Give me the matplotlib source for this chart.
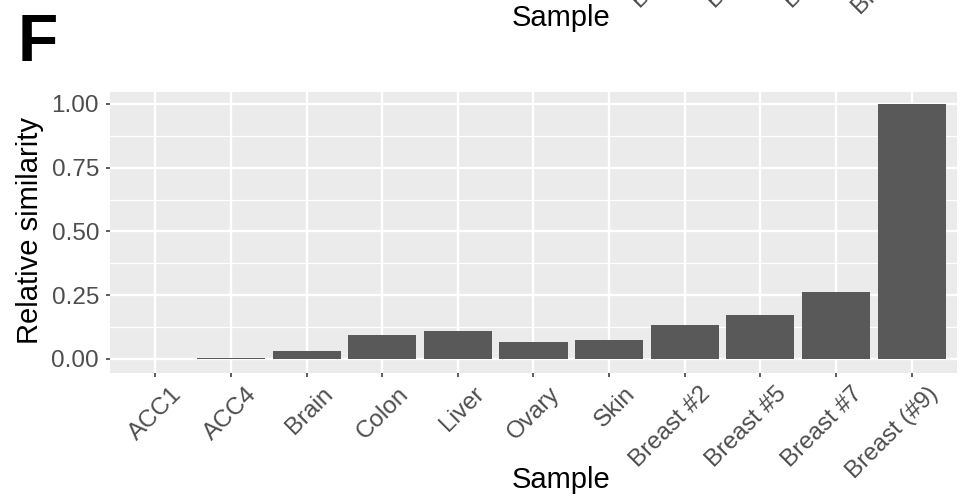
import matplotlib
matplotlib.use("Agg")
import matplotlib.pyplot as plt
from matplotlib.transforms import ScaledTranslation
import numpy as np

plt.rcParams['font.family'] = ['Liberation Sans', 'DejaVu Sans']

# data
samples = ['ACC1', 'ACC4', 'Brain', 'Colon', 'Liver', 'Ovary', 'Skin',
           'Breast #2', 'Breast #5', 'Breast #7', 'Breast (#9)']
similarity = [-0.002, 0.005, 0.031, 0.094, 0.110, 0.067, 0.075,
              0.133, 0.173, 0.263, 1.000]
y_ticks = [0.00, 0.25, 0.50, 0.75, 1.00]
y_tick_labels = ['0.00', '0.25', '0.50', '0.75', '1.00']
# tail of the panel above, cut by the top edge
prev_panel_labels = ['Breast #2', 'Breast #5', 'Breast #7', 'Breast (#9)']

W, H = 970, 499
fig = plt.figure(figsize=(W / 100, H / 100), dpi=100)

# panel in pixel coords
left, right, top, bottom = 110, 957, 92, 373
ax = fig.add_axes([left / W, 1 - bottom / H, (right - left) / W, (bottom - top) / H])

x = np.arange(1, len(samples) + 1)
ax.bar(x, similarity, width=0.9, color='#595959', zorder=3)

ax.set_facecolor('#EBEBEB')
for s in ax.spines.values():
    s.set_visible(False)

ax.set_xlim(0.4, len(samples) + 0.6)
ax.set_ylim(-0.055, 1.047)
ax.set_yticks(y_ticks, y_tick_labels)
ax.set_yticks([0.125, 0.375, 0.625, 0.875], minor=True)
ax.set_xticks(x, samples)

ax.grid(True, which='major', color='white', linewidth=1.7, zorder=0)
ax.grid(True, which='minor', axis='y', color='white', linewidth=0.9, zorder=0)
ax.set_axisbelow(True)

ax.tick_params(axis='both', which='major', color='#333333', length=2.9, width=1.1,
               labelcolor='#4D4D4D', labelsize=17.5)
ax.tick_params(axis='y', which='minor', length=0)
ax.tick_params(axis='y', pad=5.0)
ax.tick_params(axis='x', pad=12.9)

shift = ScaledTranslation(0.27, 0, fig.dpi_scale_trans)
for lab in ax.get_xticklabels():
    lab.set_rotation(45)
    lab.set_rotation_mode('anchor')
    lab.set_ha('right')
    lab.set_va('baseline')
    lab.set_transform(lab.get_transform() + shift)

# axis titles
fig.text(30 / W, 1 - 231 / H, 'Relative similarity', rotation=90,
         ha='center', va='center', fontsize=21, color='black')
fig.text(561 / W, 1 - 488 / H, 'Sample', ha='center', va='baseline',
         fontsize=21, color='black')

# remains of the panel above
fig.text(561 / W, 1 - 26 / H, 'Sample', ha='center', va='baseline',
         fontsize=21, color='black')
starts = [(640, 9), (715, 9), (792, 9), (860, 15)]
for lab, (px, py) in zip(prev_panel_labels, starts):
    fig.text(px / W, 1 - py / H, lab, rotation=45, rotation_mode='anchor',
             ha='left', va='baseline', fontsize=17.5, color='#4D4D4D')

# panel tag
fig.text(18 / W, 1 - 61 / H, 'F', fontsize=47.5, fontweight='bold',
         ha='left', va='baseline', color='black')

fig.savefig('out.png', dpi=100)
